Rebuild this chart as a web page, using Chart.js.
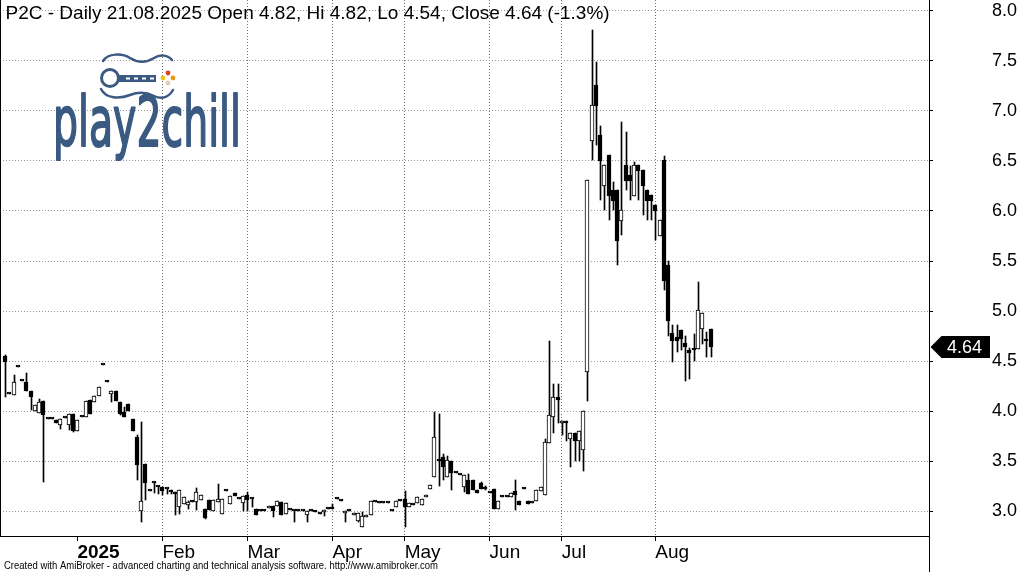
<!DOCTYPE html>
<html>
<head>
<meta charset="utf-8">
<script src="https://cdn.jsdelivr.net/npm/chart.js@4.4.1/dist/chart.umd.min.js"></script>
<style>
    html, body { margin: 0; padding: 0; background: #fff; }
</style>
</head>
<body>
<canvas id="chart" width="1022" height="572"></canvas>
<script>
const title = "P2C - Daily 21.08.2025 Open 4.82, Hi 4.82, Lo 4.54, Close 4.64 (-1.3%)";
const footer = "Created with AmiBroker - advanced charting and technical analysis software. http://www.amibroker.com";

// daily bars, Dec 2024 .. 21 Aug 2025 (one entry per session)
const open = [
    4.55, 4.17, 4.16, 4.44, 4.30, 4.29, 4.20, 4.00, 3.98, 4.10,
    3.92, 3.92, 3.91, 3.86, 3.93, 3.86, 3.97, 3.80, 3.94, 3.94,
    4.11, 4.09, 4.15, 4.46, 4.29, 4.17, 4.20, 4.09, 3.99, 4.07,
    3.92, 3.74, 3.00, 3.47, 3.20, 3.28, 3.24, 3.24, 3.22, 3.21,
    3.19, 3.04, 3.07, 3.06, 3.09, 3.09, 3.11, 3.02, 3.11, 3.00,
    3.09, 2.97, 3.20, 3.07, 3.18, 3.12, 3.08, 3.16, 3.12, 3.02,
    3.00, 3.00, 3.03, 3.05, 3.05, 3.09, 2.97, 3.01, 3.00, 3.00,
    3.00, 2.96, 3.00, 3.00, 2.97, 2.99, 3.02, 3.04, 3.12, 3.10,
    2.98, 3.00, 2.96, 2.90, 2.84, 2.94, 2.96, 3.09, 3.08, 3.08,
    3.08, 3.00, 3.04, 3.10, 3.12, 3.04, 3.06, 3.08, 3.06, 3.14,
    3.22, 3.34, 3.52, 3.54, 3.34, 3.50, 3.38, 3.36, 3.24, 3.31,
    3.31, 3.21, 3.28, 3.22, 3.18, 3.22, 3.02, 3.14, 3.14, 3.14,
    3.20, 3.10, 3.22, 3.10, 3.08, 3.10, 3.20, 3.16, 3.68, 3.94,
    4.14, 3.88, 3.90, 3.72, 3.78, 3.70, 3.61, 4.39, 6.70, 7.26,
    6.76, 6.25, 6.56, 6.21, 6.21, 5.90, 6.46, 6.36, 6.15, 6.46,
    6.41, 6.21, 6.16, 6.06, 5.75, 6.51, 5.46, 4.78, 4.74, 4.81,
    4.68, 4.61, 4.61, 4.62, 4.82, 4.70, 4.82
];
const high = [
    4.56, 4.17, 4.36, 4.44, 4.30, 4.38, 4.20, 4.06, 4.12, 4.10,
    3.92, 3.92, 3.91, 3.92, 3.93, 3.97, 3.97, 3.91, 3.94, 4.10,
    4.11, 4.15, 4.24, 4.46, 4.29, 4.20, 4.20, 4.09, 4.04, 4.07,
    3.92, 3.76, 3.89, 3.47, 3.20, 3.28, 3.24, 3.24, 3.22, 3.21,
    3.19, 3.21, 3.14, 3.10, 3.09, 3.23, 3.16, 3.02, 3.11, 3.11,
    3.27, 3.12, 3.20, 3.15, 3.18, 3.12, 3.15, 3.19, 3.12, 3.02,
    3.00, 3.00, 3.05, 3.05, 3.10, 3.09, 3.08, 3.01, 3.00, 3.00,
    3.00, 3.00, 3.00, 3.00, 2.97, 3.01, 3.02, 3.07, 3.12, 3.10,
    3.00, 3.00, 2.98, 2.98, 2.99, 2.96, 3.10, 3.09, 3.08, 3.08,
    3.08, 3.00, 3.10, 3.10, 3.20, 3.08, 3.06, 3.14, 3.12, 3.16,
    3.26, 3.99, 3.97, 3.57, 3.55, 3.50, 3.38, 3.36, 3.36, 3.37,
    3.31, 3.21, 3.29, 3.25, 3.18, 3.22, 3.10, 3.14, 3.14, 3.18,
    3.31, 3.10, 3.22, 3.10, 3.08, 3.21, 3.24, 3.72, 4.70, 4.27,
    4.27, 3.90, 3.90, 3.78, 3.78, 3.80, 4.00, 6.31, 7.81, 7.49,
    6.85, 6.46, 6.56, 6.29, 6.21, 6.89, 6.79, 6.45, 6.49, 6.46,
    6.41, 6.21, 6.16, 6.06, 5.91, 6.55, 5.50, 4.86, 4.86, 4.81,
    4.75, 4.63, 4.77, 5.29, 4.98, 4.79, 4.82
];
const low = [
    4.14, 4.17, 4.16, 4.44, 4.30, 4.20, 4.01, 4.00, 3.98, 3.29,
    3.92, 3.92, 3.88, 3.82, 3.93, 3.81, 3.79, 3.80, 3.94, 3.94,
    3.97, 4.09, 4.15, 4.46, 4.29, 4.09, 4.10, 3.96, 3.94, 4.00,
    3.80, 3.31, 2.89, 3.11, 3.20, 3.18, 3.17, 3.16, 3.17, 3.17,
    2.96, 2.97, 3.07, 3.02, 3.09, 3.01, 3.11, 2.92, 3.01, 3.00,
    3.09, 2.97, 3.20, 3.07, 3.15, 3.12, 3.00, 3.00, 3.04, 2.96,
    3.00, 3.00, 3.03, 2.94, 3.05, 2.96, 2.97, 3.01, 2.89, 3.00,
    3.00, 2.89, 3.00, 2.99, 2.97, 2.95, 3.02, 3.02, 3.12, 3.10,
    2.89, 3.00, 2.96, 2.89, 2.84, 2.94, 2.96, 3.09, 3.08, 3.08,
    3.08, 3.00, 3.04, 3.10, 2.84, 3.04, 3.06, 3.08, 3.06, 3.14,
    3.22, 3.34, 3.25, 3.31, 3.34, 3.21, 3.38, 3.36, 3.19, 3.17,
    3.21, 3.18, 3.22, 3.21, 3.18, 3.02, 3.02, 3.14, 3.14, 3.14,
    3.01, 3.06, 3.22, 3.07, 3.08, 3.10, 3.20, 3.16, 3.68, 3.78,
    3.88, 3.76, 3.70, 3.44, 3.50, 3.50, 3.40, 4.10, 6.51, 6.66,
    6.11, 6.01, 5.91, 6.01, 5.46, 5.76, 6.21, 6.11, 6.15, 6.11,
    5.96, 5.91, 5.91, 5.71, 5.75, 5.21, 4.75, 4.49, 4.59, 4.61,
    4.30, 4.32, 4.50, 4.62, 4.67, 4.54, 4.54
];
const close = [
    4.49, 4.17, 4.29, 4.44, 4.30, 4.20, 4.14, 4.06, 4.09, 3.96,
    3.92, 3.92, 3.88, 3.92, 3.93, 3.97, 3.80, 3.91, 3.94, 4.10,
    3.97, 4.15, 4.24, 4.46, 4.29, 4.20, 4.10, 3.97, 3.94, 4.00,
    3.80, 3.46, 3.10, 3.28, 3.20, 3.28, 3.24, 3.20, 3.22, 3.19,
    3.17, 3.21, 3.14, 3.09, 3.09, 3.19, 3.16, 2.93, 3.01, 3.11,
    3.12, 3.12, 3.20, 3.15, 3.15, 3.12, 3.15, 3.11, 3.12, 2.96,
    3.00, 3.00, 3.05, 3.00, 3.10, 2.96, 3.08, 3.01, 3.00, 3.00,
    3.00, 3.00, 3.00, 2.99, 2.97, 3.01, 3.02, 3.02, 3.12, 3.10,
    3.00, 3.00, 2.98, 2.98, 2.95, 2.96, 3.10, 3.09, 3.08, 3.08,
    3.08, 3.00, 3.10, 3.10, 3.04, 3.08, 3.06, 3.14, 3.12, 3.16,
    3.26, 3.74, 3.50, 3.44, 3.51, 3.38, 3.38, 3.36, 3.36, 3.17,
    3.21, 3.18, 3.22, 3.22, 3.18, 3.02, 3.10, 3.14, 3.14, 3.18,
    3.16, 3.06, 3.22, 3.07, 3.08, 3.21, 3.24, 3.69, 3.96, 4.14,
    4.11, 3.90, 3.88, 3.78, 3.70, 3.80, 4.00, 6.31, 7.06, 7.05,
    6.50, 6.46, 6.15, 6.10, 5.70, 6.01, 6.30, 6.30, 6.46, 6.40,
    6.25, 6.10, 6.10, 6.00, 5.91, 5.30, 4.90, 4.70, 4.70, 4.72,
    4.64, 4.58, 4.61, 5.01, 4.98, 4.70, 4.64
];

// first session of each month (bar index) and its label
const monthLabels = ["2025", "Feb", "Mar", "Apr", "May", "Jun", "Jul", "Aug"];
const monthStart = [17, 37, 57, 77, 94, 114, 131, 153];
const yTicks = [3.0, 3.5, 4.0, 4.5, 5.0, 5.5, 6.0, 6.5, 7.0, 7.5, 8.0];

const FONT = "'Liberation Sans', Arial, sans-serif";

const bodies = open.map((o, i) => ({ x: i, y: [o, close[i]] }));
const wicks = high.map((h, i) => ({ x: i, y: [low[i], h] }));

function drawLogo(ctx) {
    const blue = "#3b5a82";
    ctx.save();
    ctx.strokeStyle = blue;
    ctx.fillStyle = blue;
    ctx.lineCap = "round";
    ctx.lineWidth = 2.5;

    // guitar outline
    ctx.beginPath();
    ctx.moveTo(103, 61);
    ctx.bezierCurveTo(108, 53, 122, 53, 130, 58);
    ctx.bezierCurveTo(138, 63, 146, 63, 154, 58);
    ctx.bezierCurveTo(160, 54, 168, 55, 172, 60);
    ctx.stroke();
    ctx.beginPath();
    ctx.moveTo(101, 89);
    ctx.bezierCurveTo(106, 99, 120, 99, 130, 95);
    ctx.bezierCurveTo(138, 92, 146, 92, 154, 96);
    ctx.bezierCurveTo(162, 100, 169, 97, 173, 90);
    ctx.stroke();

    ctx.lineWidth = 3;
    ctx.beginPath();
    ctx.arc(110, 78, 8.5, 0, Math.PI * 2);
    ctx.stroke();
    ctx.fillRect(118, 75, 38, 7);
    ctx.fillStyle = "#fff";
    [126, 134, 142, 150].forEach(x => ctx.fillRect(x, 77.5, 4, 2));

    const dots = [[168, 73, "#d9461e"], [163, 78, "#e8c41c"], [173, 78, "#e8961c"], [168, 83, "#e2cdb6"]];
    dots.forEach(d => {
        ctx.fillStyle = d[2];
        ctx.beginPath();
        ctx.arc(d[0], d[1], 2.4, 0, Math.PI * 2);
        ctx.fill();
    });

    // word mark
    ctx.fillStyle = blue;
    ctx.strokeStyle = blue;
    ctx.lineWidth = 2;
    ctx.lineJoin = "round";
    ctx.font = "70px 'DejaVu Sans'";
    const w = ctx.measureText("play2chill").width;
    ctx.translate(53, 146);
    ctx.scale(188 / w, 1);
    ctx.fillText("play2chill", 0, 0);
    ctx.strokeText("play2chill", 0, 0);
    ctx.restore();
}

const extras = {
    id: "extras",
    beforeDatasetsDraw(chart) {
        drawLogo(chart.ctx);
        // snap candles to whole pixels so they stay crisp like the original
        chart.getDatasetMeta(0).data.forEach(el => {
            el.x = Math.round(el.x);
            el.y = Math.round(el.y);
            el.base = Math.round(el.base);
        });
        chart.getDatasetMeta(1).data.forEach(el => {
            el.x = Math.round(el.x) + 0.5;
            el.y = Math.round(el.y);
            el.base = Math.round(el.base);
        });
    },
    afterDraw(chart) {
        const ctx = chart.ctx;
        const area = chart.chartArea;
        const y = chart.scales.y;
        const axisX = Math.round(area.right) + 0.5;
        ctx.save();

        // frame bits outside the plot
        ctx.strokeStyle = "#000";
        ctx.lineWidth = 1;
        ctx.beginPath();
        ctx.moveTo(0.5, 0);
        ctx.lineTo(0.5, area.bottom);
        ctx.moveTo(axisX, area.bottom);
        ctx.lineTo(axisX, chart.height);
        ctx.stroke();

        // title
        ctx.fillStyle = "#000";
        ctx.font = "19px " + FONT;
        ctx.textBaseline = "alphabetic";
        ctx.fillText(title, 5.5, 18.5);

        // last price marker
        const last = close[close.length - 1];
        const py = Math.round(y.getPixelForValue(last));
        ctx.beginPath();
        ctx.moveTo(axisX + 1, py);
        ctx.lineTo(axisX + 12, py - 11);
        ctx.lineTo(990, py - 11);
        ctx.lineTo(990, py + 11);
        ctx.lineTo(axisX + 12, py + 11);
        ctx.closePath();
        ctx.fill();
        ctx.fillStyle = "#fff";
        ctx.font = "18px " + FONT;
        ctx.textBaseline = "middle";
        ctx.fillText(last.toFixed(2), 947, py + 1);

        // footer
        ctx.fillStyle = "#000";
        ctx.font = "10px " + FONT;
        ctx.textBaseline = "alphabetic";
        const fw = ctx.measureText(footer).width;
        ctx.translate(4, 569);
        ctx.scale(434 / fw, 1);
        ctx.fillText(footer, 0, 0);
        ctx.restore();
    }
};

let chart = new Chart(document.getElementById("chart"), {
    type: "bar",
    data: {
        datasets: [
            {
                label: "body",
                data: bodies,
                grouped: false,
                barThickness: 4,
                minBarLength: 2,
                borderWidth: 1,
                borderColor: "#000",
                borderSkipped: false,
                backgroundColor: ctx => close[ctx.dataIndex] > open[ctx.dataIndex] ? "#fff" : "#000"
            },
            {
                label: "wick",
                data: wicks,
                grouped: false,
                barThickness: 1,
                borderWidth: 0,
                backgroundColor: "#000"
            }
        ]
    },
    options: {
        responsive: false,
        animation: false,
        devicePixelRatio: 1,
        layout: { padding: 0 },
        plugins: {
            legend: { display: false },
            tooltip: { enabled: false }
        },
        scales: {
            x: {
                type: "linear",
                min: -1.22,
                max: 217.4,
                offset: false,
                bounds: "data",
                afterBuildTicks: s => { s.ticks = monthStart.map(v => ({ value: v })); },
                afterFit: s => { s.height = 36; s.paddingLeft = 0; s.paddingRight = 0; },
                grid: {
                    offset: false,
                    color: c => c.index === 0 ? "rgba(0,0,0,0)" : "#6e6e6e",
                    tickLength: 5,
                    tickColor: "#000"
                },
                border: { color: "#000", dash: [1, 2] },
                ticks: {
                    autoSkip: false,
                    maxRotation: 0,
                    align: "start",
                    padding: 0,
                    color: "#000",
                    font: c => ({ family: FONT, size: 19, weight: c.index === 0 ? "bold" : "normal" }),
                    callback: (v, i) => monthLabels[i]
                }
            },
            y: {
                position: "right",
                min: 2.75,
                max: 8.11,
                bounds: "data",
                afterBuildTicks: s => { s.ticks = yTicks.map(v => ({ value: v })); },
                afterFit: s => { s.width = 93; s.paddingTop = 0; s.paddingBottom = 0; },
                grid: { color: "#9a9a9a", tickLength: 4, tickColor: "#000" },
                border: { color: "#000", dash: [1, 2] },
                ticks: {
                    padding: 59,
                    color: "#000",
                    font: { family: FONT, size: 18 },
                    callback: v => v.toFixed(1)
                }
            }
        }
    },
    plugins: [extras]
});
</script>
</body>
</html>
